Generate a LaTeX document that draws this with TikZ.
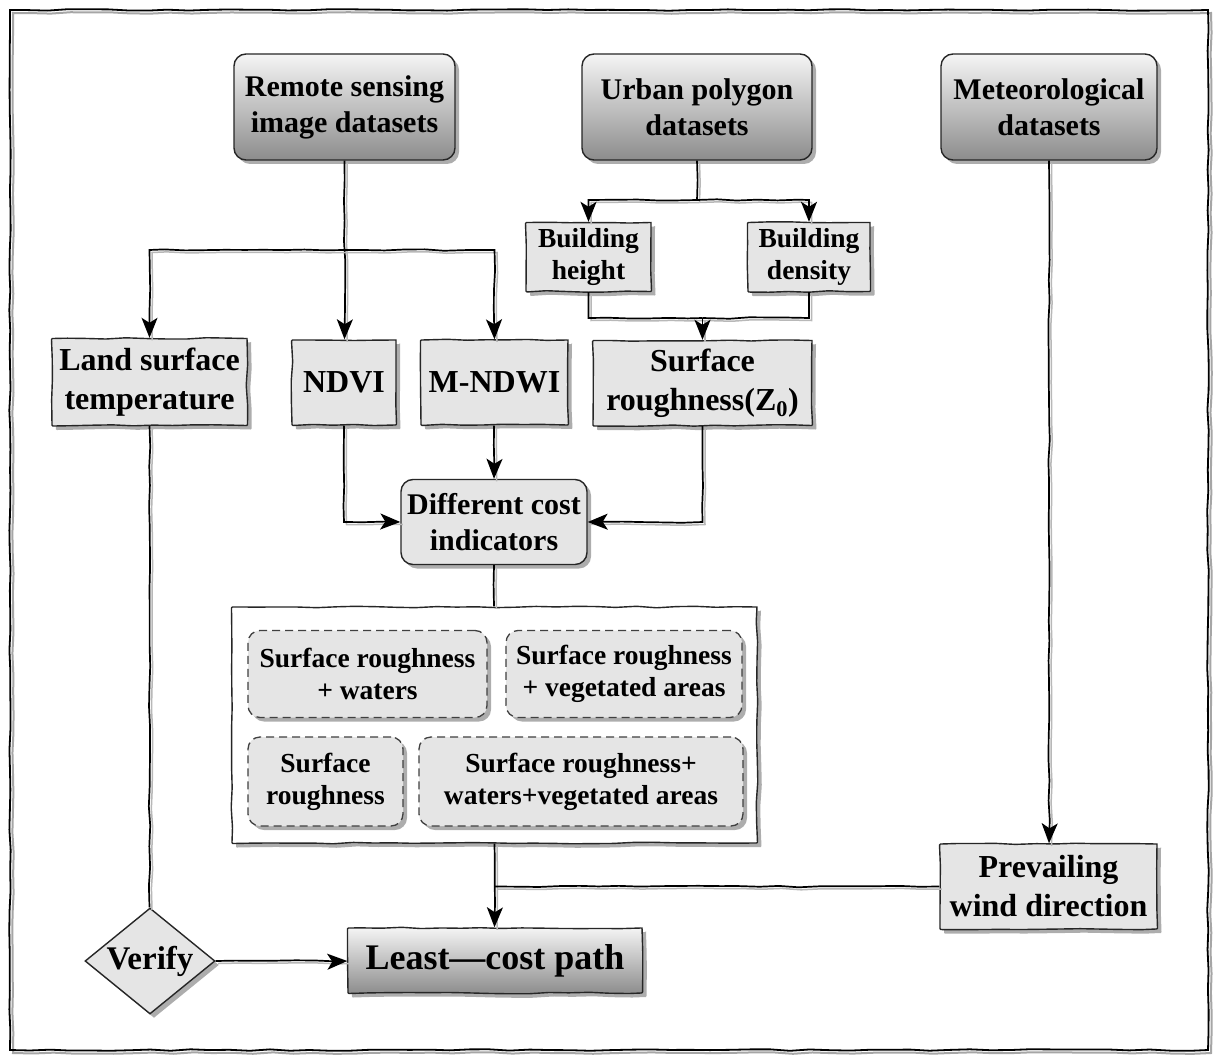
\documentclass[tikz,border=0pt]{standalone}
\usepackage{fontspec}
\setmainfont{Liberation Serif}
\usetikzlibrary{arrows.meta,shapes.geometric,shadows,decorations.pathmorphing,calc}
\begin{document}
\pgfmathsetseed{11}
\begin{tikzpicture}[x=1pt,y=-1pt,
  wob/.style={decorate,decoration={random steps,segment length=20pt,amplitude=0.8pt}},
  shad/.style={drop shadow={shadow xshift=4pt,shadow yshift=-4pt,fill=black,opacity=0.32}},
  base/.style={draw=black!85,line width=1.4pt,align=center,inner sep=2pt,shad},
  box/.style={base,wob,rounded corners=1pt},
  rgrad/.style={base,rounded corners=12pt,top color=black!4,bottom color=black!45},
  grad/.style={box,top color=black!4,bottom color=black!45},
  light/.style={box,fill=black!10},
  rlight/.style={base,rounded corners=12pt,fill=black!10},
  dbox/.style={base,fill=black!10,dash pattern=on 8pt off 5pt,draw=black!75,line width=1.3pt,rounded corners=12pt},
  fA/.style={font=\fontsize{30}{36}\selectfont\bfseries},
  fB/.style={font=\fontsize{27.5}{32}\selectfont\bfseries},
  fC/.style={font=\fontsize{32}{39}\selectfont\bfseries},
  fD/.style={font=\fontsize{36}{40}\selectfont\bfseries},
  conn/.style={line width=1.7pt,black,wob,preaction={draw=black!28,line width=1.5pt,-,transform canvas={xshift=2.5pt,yshift=-2.5pt}}},
  arr/.style={conn,-{Stealth[length=20pt,width=16pt,inset=5pt]}},
  frame/.style={line width=1.8pt,black,wob,preaction={draw=black!35,line width=2pt,transform canvas={xshift=3pt,yshift=-3pt}}}
]
\useasboundingbox (0,0) rectangle (1217,1059);
\fill[white] (0,0) rectangle (1217,1059);
\draw[frame] (10,10) rectangle (1208,1050);

% top data sources
\node[rgrad,fA,minimum width=221pt,minimum height=106pt] (rs) at (344.5,107) {Remote sensing\\image datasets};
\node[rgrad,fA,minimum width=230pt,minimum height=106pt] (up) at (697,107) {Urban polygon\\datasets};
\node[rgrad,fA,minimum width=216pt,minimum height=106pt] (met) at (1049,107) {Meteorological\\datasets};

% building
\node[light,fB,minimum width=125pt,minimum height=69pt] (bh) at (588.5,257) {Building\\height};
\node[light,fB,minimum width=122pt,minimum height=69pt] (bd) at (809,257) {Building\\density};

% indicators
\node[light,fC,minimum width=195pt,minimum height=87pt] (lst) at (149.5,382) {Land surface\\temperature};
\node[light,fC,minimum width=104pt,minimum height=85pt] (ndvi) at (344,382.5) {NDVI};
\node[light,fC,minimum width=147pt,minimum height=85pt] (mndwi) at (494.5,382.5) {M-NDWI};
\node[light,fC,minimum width=219pt,minimum height=85pt] (sr) at (702.5,383) {Surface\\roughness(Z\textsubscript{0})};

\node[rlight,fA,minimum width=186pt,minimum height=85pt] (dci) at (494,522) {Different cost\\indicators};

% container
\node[box,fill=white,minimum width=525pt,minimum height=236pt] (cont) at (494.5,725) {};
\node[dbox,fB,minimum width=239pt,minimum height=87pt] (sw) at (367.5,674) {Surface roughness\\+ waters};
\node[dbox,fB,minimum width=236pt,minimum height=87pt] (sv) at (624,674) {Surface roughness\\+ vegetated areas};
\node[dbox,fB,minimum width=155pt,minimum height=89pt] (s) at (325.5,781.5) {Surface\\roughness};
\node[dbox,fB,minimum width=324pt,minimum height=89pt] (swv) at (581,781.5) {Surface roughness+\\waters+vegetated areas};

% bottom
\node[light,fC,minimum width=217pt,minimum height=85pt] (wind) at (1048.5,886.5) {Prevailing\\wind direction};
\node[diamond,aspect=1.23,inner sep=0pt,minimum width=130pt,minimum height=106pt,draw=black!85,line width=1.4pt,fill=black!10,shad,font=\fontsize{33}{38}\selectfont\bfseries] (verify) at (150,961) {Verify};
\node[grad,fD,minimum width=294pt,minimum height=65pt] (least) at (495,960.5) {Least—cost path};

% junctions
\coordinate (j1) at (rs.south |- 0,250);
\coordinate (j2) at (up.south |- 0,200);
\coordinate (j3) at (sr.north |- 0,318);
\coordinate (j4) at (cont.south |- wind.west);

% connectors
\draw[arr] (rs.south) -- (rs.south |- ndvi.north);
\draw[arr] (j1) -| (lst.north);
\draw[arr] (j1) -| (mndwi.north);
\draw[conn] (up.south) -- (j2);
\draw[arr] (j2) -| (bh.north);
\draw[arr] (j2) -| (bd.north);
\draw[conn] (bh.south) |- (j3);
\draw[conn] (bd.south) |- (j3);
\draw[arr] (j3) -- (sr.north);
\draw[arr] (ndvi.south) |- (dci.west);
\draw[arr] (dci.north |- mndwi.south) -- (dci.north);
\draw[arr] (sr.south) |- (dci.east);
\draw[conn] (dci.south) -- (dci.south |- cont.north);
\draw[arr] (cont.south) -- (cont.south |- least.north);
\draw[conn] (wind.west) -- (j4);
\draw[arr] (met.south) -- (met.south |- wind.north);
\draw[conn] (lst.south) -- (lst.south |- verify.north);
\draw[arr] (verify.east) -- (verify.east -| least.west);
\end{tikzpicture}
\end{document}
